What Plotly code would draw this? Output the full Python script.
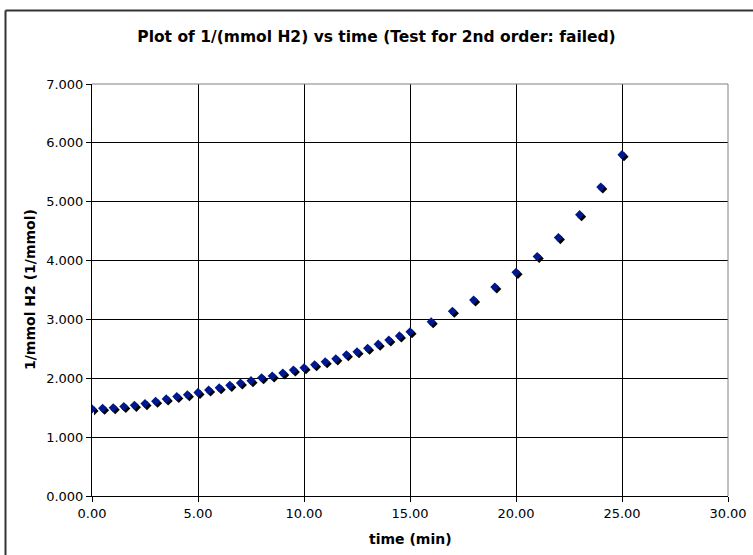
import plotly.graph_objects as go

time_min = [0.0, 0.5, 1.0, 1.5, 2.0, 2.5, 3.0, 3.5, 4.0, 4.5, 5.0, 5.5, 6.0, 6.5, 7.0, 7.5,
            8.0, 8.5, 9.0, 9.5, 10.0, 10.5, 11.0, 11.5, 12.0, 12.5, 13.0, 13.5, 14.0, 14.5, 15.0,
            16.0, 17.0, 18.0, 19.0, 20.0, 21.0, 22.0, 23.0, 24.0, 25.0]
inv_mmol_h2 = [1.48, 1.49, 1.50, 1.52, 1.54, 1.57, 1.61, 1.65, 1.69, 1.72, 1.76, 1.80, 1.84, 1.88,
               1.92, 1.96, 2.01, 2.04, 2.09, 2.14, 2.18, 2.23, 2.28, 2.33, 2.40, 2.45, 2.51, 2.58,
               2.65, 2.72, 2.79, 2.96, 3.14, 3.33, 3.55, 3.80, 4.07, 4.39, 4.78, 5.25, 5.80]
x_ticks = [0, 5, 10, 15, 20, 25, 30]
x_tick_labels = ["0.00", "5.00", "10.00", "15.00", "20.00", "25.00", "30.00"]
y_ticks = [0, 1, 2, 3, 4, 5, 6, 7]
y_tick_labels = ["0.000", "1.000", "2.000", "3.000", "4.000", "5.000", "6.000", "7.000"]

W, H = 753, 555
L, R, T, B = 92, 23, 84, 57
PW = W - L - R
PH = H - T - B
SH = 2  # shadow offset px

FONT = "DejaVu Sans, Verdana, sans-serif"

fig = go.Figure()
# shadow (black) on hidden, shifted axes
fig.add_trace(go.Scatter(x=time_min, y=inv_mmol_h2, mode="markers", xaxis="x", yaxis="y",
                         marker=dict(symbol="diamond", size=7, color="black", line=dict(width=0)),
                         hoverinfo="skip", showlegend=False))
# main (blue) on visible axes
fig.add_trace(go.Scatter(x=time_min, y=inv_mmol_h2, mode="markers", xaxis="x2", yaxis="y2",
                         marker=dict(symbol="diamond", size=7, color="#00188f", line=dict(width=0)),
                         showlegend=False))

fig.update_layout(
    width=W, height=H, autosize=False,
    margin=dict(l=L, r=R, t=T, b=B, autoexpand=False),
    paper_bgcolor="white", plot_bgcolor="rgba(0,0,0,0)",
    font=dict(family=FONT, size=13, color="black"),
    xaxis=dict(domain=[SH / PW, 1], range=[0, 30], visible=False, anchor="y",
               fixedrange=True, automargin=False),
    yaxis=dict(domain=[0, 1 - SH / PH], range=[0, 7], visible=False, anchor="x",
               fixedrange=True, automargin=False),
    xaxis2=dict(domain=[0, 1 - SH / PW], range=[0, 30], anchor="y2", automargin=False,
                tickmode="array", tickvals=x_ticks, ticktext=x_tick_labels,
                showgrid=True, gridcolor="black", gridwidth=1, zeroline=False,
                showline=True, linecolor="black", linewidth=1,
                ticks="outside", ticklen=5, tickcolor="black", tickwidth=1,
                tickfont=dict(family=FONT, size=13, color="black")),
    yaxis2=dict(domain=[SH / PH, 1], range=[0, 7], anchor="x2", automargin=False,
                tickmode="array", tickvals=y_ticks, ticktext=y_tick_labels,
                showgrid=True, gridcolor="black", gridwidth=1, zeroline=False,
                showline=True, linecolor="black", linewidth=1,
                ticks="outside", ticklen=5, tickcolor="black", tickwidth=1,
                tickfont=dict(family=FONT, size=13, color="black")),
    title=dict(text="<b>Plot of 1/(mmol H2) vs time (Test for 2nd order: failed)</b>",
               x=0.5, xref="container", xanchor="center",
               y=1 - 37 / H, yref="container", yanchor="middle",
               font=dict(family=FONT, size=15.5, color="black")),
)

def px_to_paper_x(px):
    return (px - L) / PW

def px_to_paper_y(py):
    return (H - B - py) / PH

fig.add_annotation(text="<b>1/mmol H2 (1/mmol)</b>", textangle=-90,
                   xref="paper", yref="paper", x=px_to_paper_x(30), y=px_to_paper_y(290),
                   xanchor="center", yanchor="middle", showarrow=False,
                   font=dict(family=FONT, size=14, color="black"))
fig.add_annotation(text="<b>time (min)</b>",
                   xref="paper", yref="paper", x=px_to_paper_x(410), y=px_to_paper_y(539),
                   xanchor="center", yanchor="middle", showarrow=False,
                   font=dict(family=FONT, size=14, color="black"))

# plot-area border (top and right, grey)
x_right = 1 - SH / PW
fig.add_shape(type="line", xref="paper", yref="paper", x0=0, x1=x_right, y0=1, y1=1,
              line=dict(color="#808080", width=1), layer="above")
fig.add_shape(type="line", xref="paper", yref="paper", x0=x_right, x1=x_right, y0=SH / PH, y1=1,
              line=dict(color="#808080", width=1), layer="above")
# outer chart border (left and top edges; right/bottom lie beyond the picture)
fig.add_shape(type="line", xref="paper", yref="paper",
              x0=px_to_paper_x(5.5), x1=px_to_paper_x(5.5),
              y0=px_to_paper_y(560), y1=px_to_paper_y(10.5),
              line=dict(color="#333333", width=2), layer="above")
fig.add_shape(type="line", xref="paper", yref="paper",
              x0=px_to_paper_x(5.5), x1=px_to_paper_x(760),
              y0=px_to_paper_y(10.5), y1=px_to_paper_y(10.5),
              line=dict(color="#333333", width=2), layer="above")

fig.write_html("out.html",
               config={"responsive": False, "displayModeBar": False},
               post_script="document.body.style.margin='0';document.body.style.overflow='hidden';")
